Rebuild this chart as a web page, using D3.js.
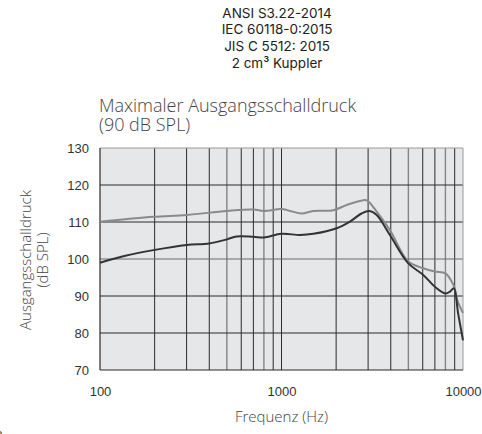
<!DOCTYPE html>
<html lang="de">
<head>
    <meta charset="utf-8">
    <script src="https://cdn.jsdelivr.net/npm/d3@7"></script>
    <style>
        body { margin: 0; background: #fff; }
        .head { font-family: Inter, "Open Sans", sans-serif; font-size: 13.5px; fill: #222; }
        .title { font-family: "Open Sans", sans-serif; font-weight: 300; font-size: 18px; fill: #444; }
        .tick text { font-family: "Liberation Sans", Arial, sans-serif; font-size: 13px; fill: #333; }
        .lab { font-family: "Open Sans", sans-serif; font-weight: 300; font-size: 15px; fill: #444; }
    </style>
</head>
<body>
<div id="chart"></div>
<script type="text/javascript">
    // header and labels
    var headLines = ["ANSI S3.22-2014", "IEC 60118-0:2015", "JIS C 5512: 2015", "2 cm³ Kuppler"];
    var titleLines = ["Maximaler Ausgangsschalldruck", "(90 dB SPL)"];
    var yLabelLines = ["Ausgangsschalldruck", "(dB SPL)"];
    var xLabel = "Frequenz (Hz)";

    var xTicks = [100, 1000, 10000];
    var yTicks = [70, 80, 90, 100, 110, 120, 130];

    // upper curve (grey)
    var freqA = [100, 197, 300, 500, 700, 800, 1000, 1114, 1292, 1497, 1930, 2287, 2823, 2970, 3346, 3956, 5000, 6040, 7000, 8000, 8662, 9000, 9300, 10000];
    var splA  = [110.1, 111.4, 111.9, 113.0, 113.4, 113.0, 113.5, 113.0, 112.3, 113.0, 113.2, 114.6, 115.9, 115.8, 112.8, 107.8, 99.3, 97.5, 96.6, 96.1, 93.9, 92.1, 88.9, 85.4];

    // lower curve (dark)
    var freqB = [100, 136, 197, 300, 400, 500, 566, 700, 800, 1000, 1265, 1497, 2013, 2383, 2760, 3050, 3346, 3956, 5000, 6040, 7000, 8000, 8476, 8900, 9400, 10000];
    var splB  = [99.0, 100.8, 102.4, 103.8, 104.2, 105.3, 106.1, 106.0, 105.8, 106.8, 106.5, 106.8, 108.3, 110.1, 112.3, 113.0, 111.9, 106.5, 98.8, 95.7, 92.5, 90.7, 91.2, 92.1, 85.3, 78.0];

    var greyGrid = [500, 800, 5000, 8000];

    var W = 482, H = 434;
    var plot = {left: 100, right: 463, top: 148, bottom: 370};

    var x = d3.scaleLog().domain([100, 10000]).range([plot.left, plot.right]);
    var y = d3.scaleLinear().domain([70, 130]).range([plot.bottom, plot.top]);

    var svg = d3.select("#chart").append("svg")
        .attr("width", W)
        .attr("height", H);

    svg.selectAll(".head")
        .data(headLines)
        .enter().append("text")
        .attr("class", "head")
        .attr("x", 277)
        .attr("y", function (d, i) { return 17.5 + i * 16.8; })
        .attr("text-anchor", "middle")
        .text(function (d) { return d; });

    svg.selectAll(".title")
        .data(titleLines)
        .enter().append("text")
        .attr("class", "title")
        .attr("x", 99)
        .attr("y", function (d, i) { return 112 + i * 19; })
        .text(function (d) { return d; });

    // plot background
    svg.append("rect")
        .attr("x", plot.left)
        .attr("y", plot.top)
        .attr("width", plot.right - plot.left)
        .attr("height", plot.bottom - plot.top)
        .style("fill", "#e6e7e9");

    // vertical grid
    var minor = [];
    [100, 1000].forEach(function (dec) {
        for (var k = 2; k <= 9; k++) minor.push(dec * k);
    });
    minor.push(1000);
    svg.append("g").selectAll("line")
        .data(minor)
        .enter().append("line")
        .attr("x1", function (d) { return x(d); })
        .attr("x2", function (d) { return x(d); })
        .attr("y1", plot.top)
        .attr("y2", plot.bottom)
        .style("stroke", function (d) { return greyGrid.indexOf(d) >= 0 ? "#858585" : "#2b2b2b"; })
        .style("stroke-width", function (d) { return greyGrid.indexOf(d) >= 0 ? 1.4 : 1; });

    // horizontal grid
    svg.append("g").selectAll("line")
        .data(yTicks.slice(1, -1))
        .enter().append("line")
        .attr("x1", plot.left)
        .attr("x2", plot.right)
        .attr("y1", function (d) { return y(d); })
        .attr("y2", function (d) { return y(d); })
        .style("stroke", function (d) { return d === 100 ? "#6a6a6a" : "#2b2b2b"; })
        .style("stroke-width", 1);

    // frame
    svg.append("line").attr("x1", plot.left).attr("x2", plot.right).attr("y1", plot.top).attr("y2", plot.top)
        .style("stroke", "#9a9a9a").style("stroke-width", 1);
    svg.append("line").attr("x1", plot.right).attr("x2", plot.right).attr("y1", plot.top).attr("y2", plot.bottom)
        .style("stroke", "#9a9a9a").style("stroke-width", 1);
    svg.append("line").attr("x1", plot.left).attr("x2", plot.left).attr("y1", plot.top).attr("y2", plot.bottom)
        .style("stroke", "#2b2b2b").style("stroke-width", 1.2);
    svg.append("line").attr("x1", plot.left).attr("x2", plot.right).attr("y1", plot.bottom).attr("y2", plot.bottom)
        .style("stroke", "#2b2b2b").style("stroke-width", 1.2);

    // curves
    var line = d3.line()
        .x(function (d) { return x(d[0]); })
        .y(function (d) { return y(d[1]); })
        .curve(d3.curveCatmullRom);

    svg.append("path")
        .datum(d3.zip(freqA, splA))
        .attr("d", line)
        .style("fill", "none")
        .style("stroke", "#8a8a8a")
        .style("stroke-width", 2);

    svg.append("path")
        .datum(d3.zip(freqB, splB))
        .attr("d", line)
        .style("fill", "none")
        .style("stroke", "#333")
        .style("stroke-width", 2);

    // axes (labels only)
    var xAxis = svg.append("g")
        .attr("transform", "translate(0," + plot.bottom + ")")
        .call(d3.axisBottom(x).tickValues(xTicks).tickFormat(d3.format("d")).tickSize(0).tickPadding(17));
    xAxis.select(".domain").remove();

    var yAxis = svg.append("g")
        .attr("transform", "translate(" + plot.left + ",0)")
        .call(d3.axisLeft(y).tickValues(yTicks).tickSize(0).tickPadding(11));
    yAxis.select(".domain").remove();

    svg.append("text")
        .attr("class", "lab")
        .attr("x", x(1000))
        .attr("y", 422)
        .attr("text-anchor", "middle")
        .text(xLabel);

    svg.selectAll(".ylab")
        .data(yLabelLines)
        .enter().append("text")
        .attr("class", "lab")
        .attr("transform", function (d, i) { return "translate(" + (31 + i * 17) + "," + 260 + ") rotate(-90)"; })
        .attr("text-anchor", "middle")
        .text(function (d) { return d; });

    // cut-off page number in the corner
    svg.append("text")
        .attr("x", -5)
        .attr("y", 441)
        .style("font-family", "Open Sans, sans-serif")
        .style("font-size", "14px")
        .style("fill", "#555")
        .text("2");
</script>
</body>
</html>
